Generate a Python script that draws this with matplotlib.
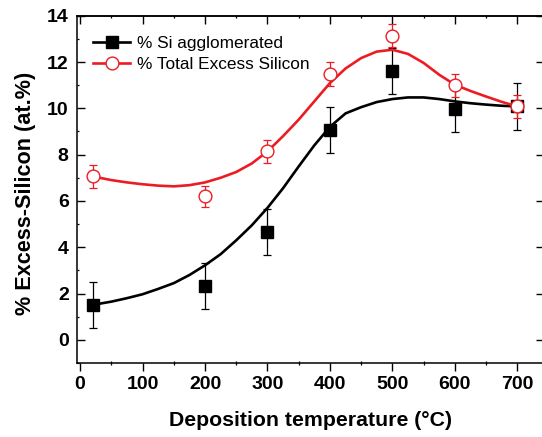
import matplotlib
matplotlib.use("Agg")
import matplotlib.pyplot as plt
from matplotlib.ticker import MultipleLocator

plt.rcParams['font.family'] = ['Liberation Sans', 'DejaVu Sans']

# Measured data
temps = [20, 200, 300, 400, 500, 600, 700]
si_agglomerated = [1.5, 2.33, 4.65, 9.07, 11.6, 9.97, 10.08]
si_agg_err = [1.0, 1.0, 1.0, 1.0, 1.0, 1.0, 1.0]
total_excess = [7.06, 6.2, 8.14, 11.48, 13.14, 10.99, 10.08]
total_err = [0.5, 0.45, 0.5, 0.5, 0.5, 0.5, 0.5]

# Fit curves
curve_t = [20, 50, 75, 100, 125, 150, 175, 200, 225, 250, 275, 300, 325, 350,
           375, 400, 425, 450, 475, 500, 525, 550, 575, 600, 625, 650, 675, 700]
curve_black = [1.51, 1.65, 1.80, 1.97, 2.20, 2.45, 2.80, 3.22, 3.70, 4.30, 4.95,
               5.70, 6.55, 7.49, 8.40, 9.20, 9.78, 10.05, 10.27, 10.40, 10.47,
               10.47, 10.40, 10.30, 10.22, 10.16, 10.11, 10.08]
curve_red = [7.06, 6.90, 6.80, 6.72, 6.66, 6.63, 6.68, 6.80, 7.00, 7.25, 7.62,
             8.14, 8.80, 9.51, 10.30, 11.09, 11.72, 12.17, 12.45, 12.53, 12.35,
             11.96, 11.45, 11.02, 10.75, 10.51, 10.28, 10.08]

x_ticks = [0, 100, 200, 300, 400, 500, 600, 700]
y_ticks = [0, 2, 4, 6, 8, 10, 12, 14]

RED = '#ec1c24'

fig = plt.figure(figsize=(5.42, 4.37), dpi=100)
ax = fig.add_axes([77.0/542, (437-363)/437, (543.5-77.0)/542, (363-15.7)/437])

# black series
ax.plot(curve_t, curve_black, color='black', lw=1.9, zorder=2, solid_joinstyle='round')
ax.errorbar(temps, si_agglomerated, yerr=si_agg_err, fmt='none', ecolor='black',
            elinewidth=0.9, capsize=2.6, capthick=0.9, zorder=3)
ax.plot(temps, si_agglomerated, 's', color='black', ms=8.8, zorder=4)

# red series
ax.plot(curve_t, curve_red, color=RED, lw=1.9, zorder=5, solid_joinstyle='round')
ax.errorbar(temps, total_excess, yerr=total_err, fmt='none', ecolor=RED,
            elinewidth=0.9, capsize=2.6, capthick=0.9, zorder=6)
ax.plot(temps, total_excess, 'o', mfc='white', mec=RED, mew=1.0, ms=9.2, zorder=7)

# legend proxies
h1, = ax.plot([], [], '-s', color='black', lw=1.9, ms=8.8)
h2, = ax.plot([], [], '-o', color=RED, lw=1.9, mfc='white', mec=RED, mew=1.0, ms=9.2)
leg = ax.legend([h1, h2], ['% Si agglomerated', '% Total Excess Silicon'],
                loc='upper left', bbox_to_anchor=(0.013, 0.972), frameon=False,
                fontsize=12.4, handlelength=2.15, handletextpad=0.4,
                labelspacing=0.34, borderaxespad=0.3, borderpad=0.3)

ax.set_xlim(-5, 742)
ax.set_ylim(-1, 14)
ax.set_xticks(x_ticks)
ax.set_yticks(y_ticks)
ax.xaxis.set_minor_locator(MultipleLocator(50))
ax.yaxis.set_minor_locator(MultipleLocator(1))

for s in ax.spines.values():
    s.set_linewidth(1.1)

ax.tick_params(axis='x', which='major', direction='out', length=5.5, width=1.0,
               top=False, labelsize=14, pad=4)
ax.tick_params(axis='x', which='minor', direction='inout', length=2.5, width=0.9, top=False)
ax.tick_params(axis='y', which='major', direction='in', length=5.5, width=1.0,
               right=True, labelsize=14, pad=6)
ax.tick_params(axis='y', which='minor', direction='in', length=1.5, width=0.9, right=False)
# top axis ticks (inward)
sec = ax.secondary_xaxis('top')
sec.set_xticks(x_ticks)
sec.xaxis.set_minor_locator(MultipleLocator(50))
sec.tick_params(axis='x', which='major', direction='in', length=5.5, width=1.0, labeltop=False)
sec.tick_params(axis='x', which='minor', direction='in', length=1.5, width=0.9)
sec.spines['top'].set_linewidth(1.1)

for lab in ax.get_xticklabels() + ax.get_yticklabels():
    lab.set_fontweight('bold')

ax.set_xlabel('Deposition temperature (°C)', fontsize=15.3, fontweight='bold', labelpad=13)
ax.set_ylabel('% Excess-Silicon (at.%)', fontsize=15.6, fontweight='bold', labelpad=8)
ax.yaxis.label.set_y(0.488)

fig.savefig('out.png', dpi=100)
